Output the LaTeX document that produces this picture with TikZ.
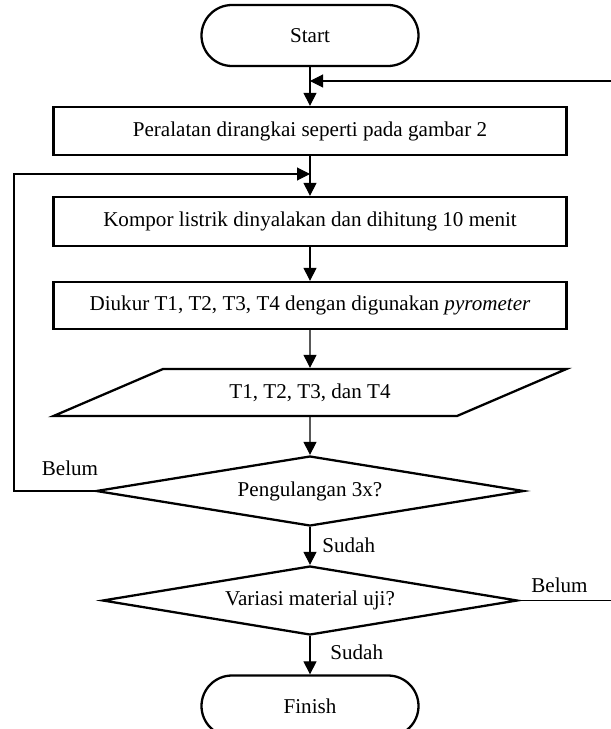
\documentclass[tikz,border=0pt]{standalone}
\usepackage{fontspec}
\setmainfont{Liberation Serif}
\usetikzlibrary{shapes.geometric, arrows.meta}

\begin{document}
\begin{tikzpicture}[
  font=\fontsize{12}{14}\selectfont,
  termbox/.style={draw, line width=1.3pt, rectangle, rounded corners=0.61cm, minimum width=4.34cm, minimum height=1.22cm},
  procbox/.style={draw, line width=1.3pt, rectangle, minimum width=10.26cm, minimum height=0.96cm},
  iobox/.style={draw, line width=1.3pt, trapezium, trapezium left angle=24.7, trapezium right angle=155.3, trapezium stretches=true, minimum width=10.26cm, minimum height=0.94cm},
  decbox/.style={draw, line width=1.3pt, diamond, aspect=6, inner sep=0pt, minimum width=8.56cm, minimum height=1.4cm},
  flow/.style={-{Triangle[length=0.26cm, width=0.26cm]}, line width=0.6pt},
  plain/.style={line width=0.6pt},
  lbl/.style={inner sep=0pt}
]
  \useasboundingbox (0,0) rectangle (12.22,-14.58);

  % Start
  \node[termbox] (start) at (6.2,-0.71) {Start};

  % Proses
  \node[procbox] (rangkai) at (6.2,-2.62) {Peralatan dirangkai seperti pada gambar 2};
  \node[procbox, minimum height=0.98cm] (kompor) at (6.2,-4.43) {Kompor listrik dinyalakan dan dihitung 10 menit};
  \node[procbox, minimum height=0.94cm] (ukur) at (6.2,-6.11) {Diukur T1, T2, T3, T4 dengan digunakan \textit{pyrometer}};

  % Data
  \node[iobox] (data) at (6.2,-7.85) {T1, T2, T3, dan T4};

  % Keputusan
  \node[decbox] (ulang) at (6.2,-9.82) {Pengulangan 3x?};
  \node[decbox, minimum width=8.3cm, minimum height=1.38cm] (variasi) at (6.2,-12.01) {Variasi material uji?};

  % Finish
  \node[termbox] (finish) at (6.2,-14.12) {Finish};

  % Titik bantu
  \coordinate (tepi) at (12.22,-1.62);
  \coordinate (kiri) at (0.28,-3.48);

  % Alur utama
  \draw[flow] (start) -- (rangkai);
  \draw[flow] (rangkai) -- (kompor);
  \draw[flow] (kompor) -- (ukur);
  \draw[flow] (ukur) -- (data);
  \draw[flow] (data) -- (ulang);
  \draw[flow] (ulang) -- (variasi);
  \draw[flow] (variasi) -- (finish);

  % Ulangi pengukuran
  \draw[flow] (ulang.west) -| (kiri) -- (kiri -| rangkai.south);

  % Ganti material
  \draw[plain] (variasi.east) -- (variasi.east -| tepi);
  \draw[flow] (tepi) -- (tepi -| start.south);

  % Label
  \node[lbl] (belum1) at (1.40,-9.36) {Belum};
  \node[lbl, anchor=west] (sudah1) at (6.44,-10.9) {Sudah};
  \node[lbl] (belum2) at (11.19,-11.7) {Belum};
  \node[lbl, anchor=west] (sudah2) at (6.60,-13.04) {Sudah};

\end{tikzpicture}
\end{document}
